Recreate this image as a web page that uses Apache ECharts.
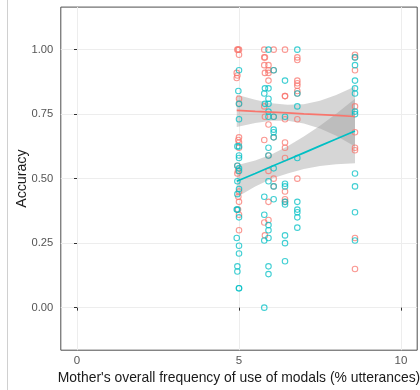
<!DOCTYPE html>
<html><head><meta charset="utf-8">
<script src="https://cdn.jsdelivr.net/npm/echarts@6/dist/echarts.min.js"></script>
<style>html,body{margin:0;padding:0;background:#fff}#c{width:420px;height:390px}</style>
</head><body><div id="c"></div>
<script>
// ---- data ----
const xTicks = [0, 5, 10];
const yTicks = [0, 0.25, 0.5, 0.75, 1.0];

const redX = [4.95,5.0,4.97,5.0,4.93,4.95,4.93,5.0,5.0,5.0,4.98,5.0,5.0,4.95,4.97,4.95,5.0,4.98,5.0,4.97,5.0,5.0,
  5.78,5.78,5.8,5.78,5.8,5.78,5.8,5.78,5.78,5.8,
  5.91,5.91,5.91,5.91,5.91,5.91,5.91,5.91,5.91,
  6.07,6.07,6.07,6.07,6.07,6.07,
  6.42,6.42,6.42,6.42,6.42,6.42,6.42,6.42,6.42,6.42,
  6.8,6.8,6.8,6.8,6.8,6.8,6.8,6.8,6.8,
  8.58,8.58,8.58,8.58,8.58,8.58,8.58,8.58,8.58];
const redY = [1.00,1.00,1.00,0.98,0.91,0.90,0.89,0.81,0.79,0.66,0.65,0.64,0.62,0.55,0.53,0.52,0.45,0.43,0.41,0.38,0.36,0.30,
  1.00,0.97,0.97,0.94,0.91,0.78,0.74,0.65,0.33,0.28,
  0.94,0.92,0.91,0.88,0.71,0.59,0.53,0.41,0.34,
  1.00,0.92,0.74,0.66,0.50,0.47,
  1.00,0.82,0.82,0.73,0.64,0.62,0.58,0.45,0.42,0.41,
  0.97,0.96,0.88,0.87,0.86,0.84,0.83,0.73,0.50,
  0.98,0.97,0.92,0.78,0.68,0.62,0.61,0.27,0.15];

const tealX = [5.0,4.98,5.0,5.0,4.95,5.0,5.0,5.0,4.95,5.0,5.0,4.95,5.0,4.95,4.93,4.95,5.0,4.93,5.0,5.0,4.95,4.95,5.0,5.0,
  5.8,5.78,5.8,5.78,5.78,5.78,5.78,
  5.91,5.91,5.91,5.91,5.91,5.91,5.91,5.91,5.91,5.91,5.91,5.91,5.91,5.91,
  6.07,6.07,6.07,6.07,6.07,6.07,6.07,6.07,
  6.42,6.42,6.42,6.42,6.42,6.42,6.42,6.42,6.42,
  6.8,6.8,6.8,6.8,6.8,6.8,6.8,6.8,6.8,
  8.58,8.58,8.58,8.58,8.58,8.58,8.58,8.58,8.58,8.58,8.58];
const tealY = [0.92,0.84,0.79,0.73,0.625,0.625,0.59,0.58,0.55,0.54,0.53,0.49,0.46,0.44,0.38,0.38,0.35,0.27,0.24,0.21,0.16,0.14,0.075,0.075,
  0.85,0.83,0.79,0.43,0.36,0.26,0.00,
  1.00,0.85,0.81,0.79,0.76,0.74,0.62,0.59,0.49,0.32,0.30,0.27,0.16,0.13,
  0.92,0.74,0.69,0.68,0.66,0.54,0.47,0.42,
  0.88,0.74,0.48,0.47,0.41,0.40,0.28,0.25,0.18,
  1.00,0.83,0.78,0.58,0.41,0.38,0.37,0.35,0.31,
  0.97,0.94,0.88,0.85,0.83,0.76,0.75,0.52,0.47,0.37,0.26];

// fitted lines and confidence bands
const bandX   = [4.93, 5.5, 6.0, 6.5, 7.0, 7.5, 8.0, 8.58];
const redFit  = [0.765, 0.761, 0.758, 0.755, 0.751, 0.748, 0.745, 0.741];
const redLo   = [0.700, 0.716, 0.724, 0.724, 0.714, 0.694, 0.666, 0.625];
const redHi   = [0.825, 0.806, 0.792, 0.786, 0.788, 0.802, 0.824, 0.857];
const tealFit = [0.490, 0.520, 0.547, 0.573, 0.600, 0.627, 0.654, 0.685];
const tealLo  = [0.428, 0.470, 0.500, 0.520, 0.537, 0.549, 0.556, 0.560];
const tealHi  = [0.552, 0.570, 0.594, 0.626, 0.663, 0.705, 0.752, 0.810];

const RED = '#F8766D', TEAL = '#00BFC4';

function pairs(xs, ys){ return xs.map((x,i)=>[x, ys[i]]); }

function bandSeries(lo, hi){
  return {
    type:'custom', silent:true, clip:true,
    data:[0],
    renderItem:function(params, api){
      const pts = [];
      for (let i=0;i<bandX.length;i++) pts.push(api.coord([bandX[i], hi[i]]));
      for (let i=bandX.length-1;i>=0;i--) pts.push(api.coord([bandX[i], lo[i]]));
      return {type:'polygon', shape:{points:pts}, style:{fill:'rgba(153,153,153,0.4)', stroke:null}};
    }
  };
}

const chart = echarts.init(document.getElementById('c'), null, {renderer:'canvas'});
chart.setOption({
  animation:false,
  backgroundColor:'#fff',
  grid:{left:60.8, top:7.1, width:356.4, height:343.1, show:true, borderColor:'#4d4d4d', borderWidth:1,
        backgroundColor:'transparent', containLabel:false, outerBoundsMode:'none'},
  xAxis:{
    type:'value', min:-0.5, max:10.5,
    name:"Mother's overall frequency of use of modals (% utterances)",
    nameLocation:'middle', nameGap:21, nameMoveOverlap:false,
    nameTextStyle:{color:'#1a1a1a', fontSize:13.9, fontFamily:'Liberation Sans'},
    axisLine:{show:false},
    axisTick:{show:true, length:3, lineStyle:{color:'#333'}, customValues:xTicks},
    axisLabel:{color:'#555', fontSize:11.5, fontFamily:'Liberation Sans', margin:5, customValues:xTicks, formatter:v=>String(v)},
    splitLine:{show:true, lineStyle:{color:'#ededed', width:1}}
  },
  yAxis:{
    type:'value', min:-0.165, max:1.165,
    name:'Accuracy', nameLocation:'middle', nameGap:32, nameRotate:90, nameMoveOverlap:false,
    nameTextStyle:{color:'#1a1a1a', fontSize:14.2, fontFamily:'Liberation Sans'},
    axisLine:{show:false},
    axisTick:{show:true, length:3, lineStyle:{color:'#333'}, customValues:yTicks},
    axisLabel:{color:'#555', fontSize:11.2, fontFamily:'Liberation Sans', margin:7.5, customValues:yTicks, formatter:v=>v.toFixed(2)},
    splitLine:{show:true, lineStyle:{color:'#ededed', width:1}}
  },
  graphic:[{type:'line', shape:{x1:7.5,y1:0,x2:7.5,y2:390}, style:{stroke:'#d0d0d0', lineWidth:1}}],
  series:[
    {type:'scatter', data:pairs(redX, redY), symbol:'circle', symbolSize:5.5,
     itemStyle:{color:'rgba(0,0,0,0)', borderColor:RED, borderWidth:1.1, opacity:0.75}},
    {type:'scatter', data:pairs(tealX, tealY), symbol:'circle', symbolSize:5.5,
     itemStyle:{color:'rgba(0,0,0,0)', borderColor:TEAL, borderWidth:1.1, opacity:0.75}},
    bandSeries(redLo, redHi),
    {type:'line', data:pairs(bandX, redFit), showSymbol:false, symbol:'none', lineStyle:{color:RED, width:1.7}},
    bandSeries(tealLo, tealHi),
    {type:'line', data:pairs(bandX, tealFit), showSymbol:false, symbol:'none', lineStyle:{color:TEAL, width:1.7}}
  ]
});
</script></body></html>
